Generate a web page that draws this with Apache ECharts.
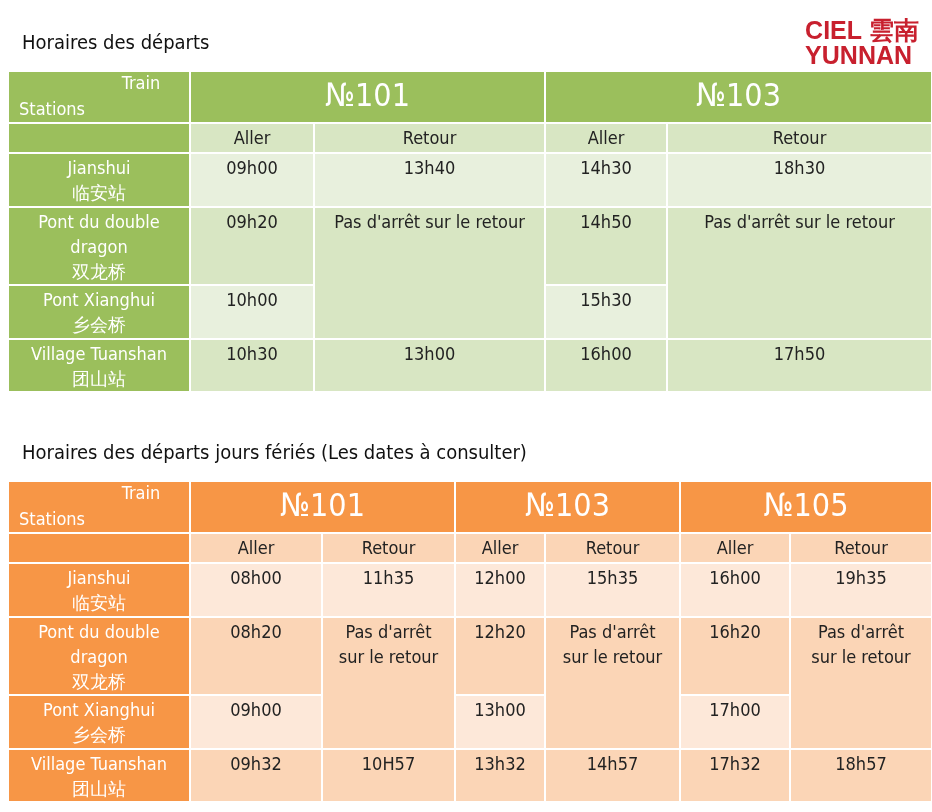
<!DOCTYPE html>
<html><head><meta charset="utf-8">
<script src="https://cdn.jsdelivr.net/npm/echarts@6/dist/echarts.min.js"></script>
<style>html,body{margin:0;padding:0;background:#fff}#c{width:932px;height:812px}</style>
</head><body><div id="c"></div>
<script>
// ---- data ----
const stations = ['Jianshui\n临安站', 'Pont du double\ndragon\n双龙桥', 'Pont Xianghui\n乡会桥', 'Village Tuanshan\n团山站'];
const trains1 = ['№101', '№103'];
const trains2 = ['№101', '№103', '№105'];
const aller1 = [['09h00', '09h20', '10h00', '10h30'], ['14h30', '14h50', '15h30', '16h00']];
const retour1 = [['13h40', '13h00'], ['18h30', '17h50']];
const aller2 = [['08h00', '08h20', '09h00', '09h32'], ['12h00', '12h20', '13h00', '13h32'], ['16h00', '16h20', '17h00', '17h32']];
const retour2 = [['11h35', '10H57'], ['15h35', '14h57'], ['19h35', '18h57']];
const noStop1 = "Pas d'arrêt sur le retour";
const noStop2 = "Pas d'arrêt\nsur le retour";
// layout (table edges on the page scale)
const cols1 = [8, 190, 314, 545, 667, 932];
const rows1 = [71, 123, 153, 207, 285, 339, 392];
const cols2 = [8, 190, 322, 455, 545, 680, 790, 932];
const rows2 = [481, 533, 563, 617, 695, 749, 802];
const green = {H: '#9bbf5c', S: '#d8e6c3', L: '#e8f0dd'};
const orange = {H: '#f79646', S: '#fbd5b6', L: '#fde8d9'};

function build(cols, rows, trains, aller, retour, noStop, pal) {
  const cells = [];
  const add = (c0, c1, r0, r1, text, k, kind) =>
    cells.push([cols[c0], cols[c1], rows[r0], rows[r1], text, pal[k], kind]);
  add(0, 1, 0, 1, '', 'H', 'corner');
  add(0, 1, 1, 2, '', 'H', 'st');
  stations.forEach((s, i) => add(0, 1, i + 2, i + 3, s, 'H', 'st'));
  trains.forEach((t, j) => {
    const a = 1 + 2 * j, r = a + 1;
    add(a, r + 1, 0, 1, t, 'H', 'head');
    add(a, a + 1, 1, 2, 'Aller', 'S', 'txt');
    add(r, r + 1, 1, 2, 'Retour', 'S', 'txt');
    const L = ['L', 'S', 'L', 'S'];
    aller[j].forEach((v, i) => add(a, a + 1, i + 2, i + 3, v, L[i], 'txt'));
    add(r, r + 1, 2, 3, retour[j][0], 'L', 'txt');
    add(r, r + 1, 3, 5, noStop, 'S', 'txt');
    add(r, r + 1, 5, 6, retour[j][1], 'S', 'txt');
  });
  return cells;
}
const cells = build(cols1, rows1, trains1, aller1, retour1, noStop1, green)
  .concat(build(cols2, rows2, trains2, aller2, retour2, noStop2, orange));

const font = "'DejaVu Sans Condensed','Liberation Sans Narrow',sans-serif";
const chart = echarts.init(document.getElementById('c'));
chart.setOption({
  animation: false,
  grid: {left: 0, right: 0, top: 0, bottom: 0},
  xAxis: {type: 'value', min: 0, max: 932, show: false},
  yAxis: {type: 'value', min: 0, max: 812, inverse: true, show: false},
  title: [
    {text: 'Horaires des départs', left: 17, top: 29, textStyle: {fontFamily: font, fontSize: 20, fontWeight: 'normal', color: '#111'}},
    {text: 'Horaires des départs jours fériés (Les dates à consulter)', left: 17, top: 439, textStyle: {fontFamily: font, fontSize: 20, fontWeight: 'normal', color: '#111'}},
    {text: 'CIEL 雲南\nYUNNAN', right: 8, top: 15, textStyle: {fontFamily: 'Liberation Sans', fontSize: 25, fontWeight: 'bold', color: '#c8202e', lineHeight: 25, align: 'left'}}
  ],
  series: [{
    type: 'custom',
    coordinateSystem: 'cartesian2d',
    data: cells,
    encode: {x: [0, 1], y: [2, 3]},
    renderItem: function (params, api) {
      const p0 = api.coord([api.value(0), api.value(2)]);
      const p1 = api.coord([api.value(1), api.value(3)]);
      const d = cells[params.dataIndex];
      const x = p0[0] + 1, y = p0[1] + 1, w = p1[0] - p0[0] - 2, h = p1[1] - p0[1] - 2;
      const kids = [{type: 'rect', shape: {x, y, width: w, height: h}, style: {fill: d[5]}}];
      const kind = d[6];
      if (kind === 'corner') {
        kids.push({type: 'text', style: {x: x + 132, y: y + 3, text: 'Train', fill: '#fff', font: '18px ' + font, align: 'center'}});
        kids.push({type: 'text', style: {x: x + 10, y: y + h - 3, text: 'Stations', fill: '#fff', font: '18px ' + font, align: 'left', verticalAlign: 'bottom'}});
      } else if (kind === 'head') {
        kids.push({type: 'text', style: {x: x + w / 2, y: y + h / 2 + 1, text: d[4], fill: '#fff', font: '32px ' + font, align: 'center', verticalAlign: 'middle'}});
      } else if (d[4]) {
        kids.push({type: 'text', style: {x: x + w / 2, y: y + 3, text: d[4], fill: kind === 'st' ? '#fff' : '#222', font: '18px ' + font, lineHeight: 25, align: 'center', verticalAlign: 'top'}});
      }
      return {type: 'group', children: kids};
    }
  }]
});
</script></body></html>
